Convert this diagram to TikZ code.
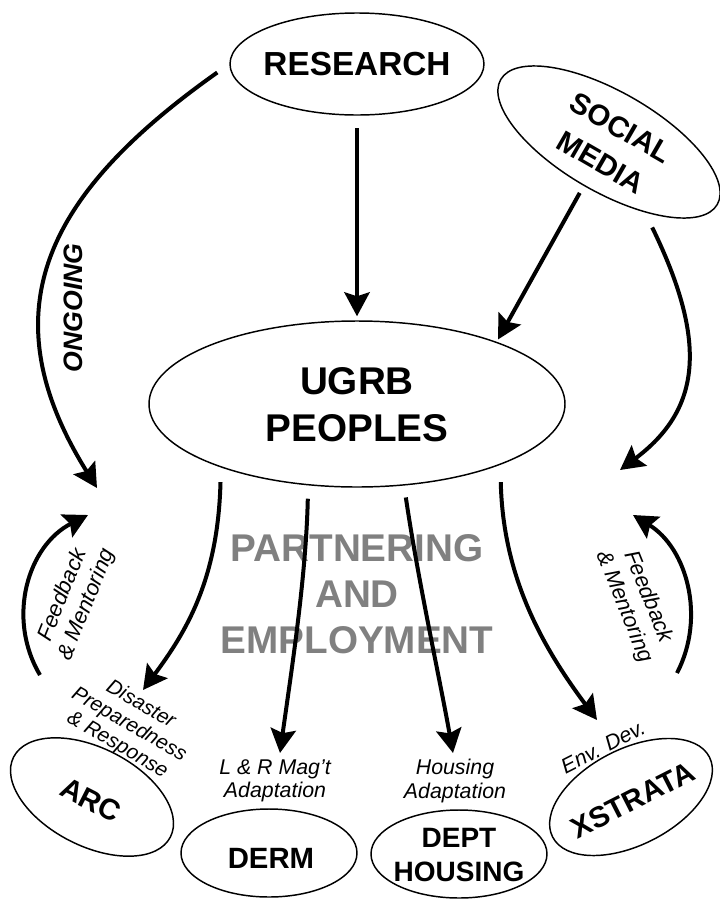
\documentclass[tikz,border=0pt]{standalone}
\usepackage{fontspec}
\setmainfont{Liberation Sans}
\usetikzlibrary{shapes.geometric,arrows.meta}
\definecolor{pgray}{RGB}{128,128,128}
\begin{document}
\begin{tikzpicture}[x=0.75pt,y=-0.75pt,
  ell/.style={draw, ellipse, line width=1.1pt, inner sep=0pt},
  nbig/.style={font=\bfseries\fontsize{22}{26}\selectfont, align=center, inner sep=0pt},
  lab/.style={font=\itshape\fontsize{16}{17.5}\selectfont, align=center, inner sep=0pt},
  arr/.style={line width=3pt, -{Stealth[length=18pt,width=19pt,inset=3pt]}}]
\useasboundingbox (0,0) rectangle (719,900);

% background grey text
\node[font=\bfseries\fontsize{29}{34.5}\selectfont, text=pgray, align=center, inner sep=0pt]
  (partner) at (357,594) {PARTNERING\\AND\\EMPLOYMENT};

% ellipses
\node[ell, minimum width=190.5pt, minimum height=76.5pt] (research) at (357,64) {};
\node[font=\bfseries\fontsize{25}{30}\selectfont, inner sep=0pt] (research-t) at (research) {RESEARCH};

\node[ell, minimum width=187.5pt, minimum height=75pt, rotate=-30] (social) at (609,142) {};
\node[font=\bfseries\fontsize{22}{30}\selectfont, align=center, inner sep=0pt, rotate=-30]
  (social-t) at (611,145) {SOCIAL\\MEDIA};

\node[ell, minimum width=312pt, minimum height=124.5pt] (ugrb) at (357,404) {};
\node[font=\bfseries\fontsize{29}{35}\selectfont, align=center, inner sep=0pt]
  (ugrb-t) at (357,405) {UGRB\\PEOPLES};

\node[ell, minimum width=132pt, minimum height=73.5pt, rotate=-27] (arc) at (92,797) {};
\node[nbig, rotate=-27] (arc-t) at (91,800) {ARC};

\node[ell, minimum width=132pt, minimum height=66pt] (derm) at (269,853) {};
\node[nbig] (derm-t) at (271,858) {DERM};

\node[ell, minimum width=132pt, minimum height=66pt] (housing) at (459,854) {};
\node[nbig, font=\bfseries\fontsize{21}{26}\selectfont] (housing-t) at (459,855) {DEPT\\HOUSING};

\node[ell, minimum width=132pt, minimum height=72pt, rotate=27] (xstrata) at (631,797) {};
\node[nbig, rotate=27] (xstrata-t) at (633,800) {XSTRATA};

% labels
\node[font=\bfseries\itshape\fontsize{20}{24}\selectfont, inner sep=0pt, rotate=90]
  (ongoing-t) at (73,308) {ONGOING};
\node[lab, font=\itshape\fontsize{15.5}{17.5}\selectfont, rotate=-30]
  (disaster-t) at (129,725) {Disaster\\Preparedness\\\& Response};
\node[lab] (lr-t) at (275,781) {L \& R Mag't\\Adaptation};
\node[lab] (hous-lab) at (455,781) {Housing\\Adaptation};
\node[lab, rotate=27] (env-t) at (603,747) {Env. Dev.};
\node[lab, font=\itshape\fontsize{16.5}{19.5}\selectfont, rotate=68]
  (fbl-t) at (75,600) {Feedback\\\& Mentoring};
\node[lab, font=\itshape\fontsize{16.5}{19.5}\selectfont, rotate=-68]
  (fbr-t) at (636,602) {Feedback\\\& Mentoring};

% free arrow ends
\coordinate (ongoing-end) at (97,488);
\coordinate (sm-end) at (620,470);
\coordinate (arc-tip) at (143,690);
\coordinate (derm-tip) at (280,753);
\coordinate (housing-tip) at (453,753);
\coordinate (xs-tip) at (597,720);
\coordinate (fbl-start) at (40,675);
\coordinate (fbl-end) at (88,515);
\coordinate (fbr-start) at (677,673);
\coordinate (fbr-end) at (633,515);

% connectors
\draw[arr, shorten <=9.5pt, shorten >=3pt] (research.south) -- (ugrb.north);
\draw[arr, shorten <=6pt, shorten >=2pt] (social.south) -- (ugrb.24);
\draw[arr, shorten <=11pt] (research.west) .. controls (47,193) and (-14,310) .. (ongoing-end);
\draw[arr, shorten <=12.5pt] (social.327) .. controls (709,344) and (700,410) .. (sm-end);
\draw[arr, shorten <=11pt] (ugrb.205) .. controls (218,580) and (186,632) .. (arc-tip);
\draw[arr, shorten <=10pt] (ugrb.239) .. controls (306,580) and (290,680) .. (derm-tip);
\draw[arr, shorten <=9pt] (ugrb.300) .. controls (418,580) and (440,680) .. (housing-tip);
\draw[arr, shorten <=13pt] (ugrb.337) .. controls (503,580) and (545,650) .. (xs-tip);
\draw[arr] (fbl-start) .. controls (6,617.7) and (28,545.5) .. (fbl-end);
\draw[arr] (fbr-start) .. controls (706.1,616.9) and (686.8,548.1) .. (fbr-end);
\end{tikzpicture}
\end{document}
